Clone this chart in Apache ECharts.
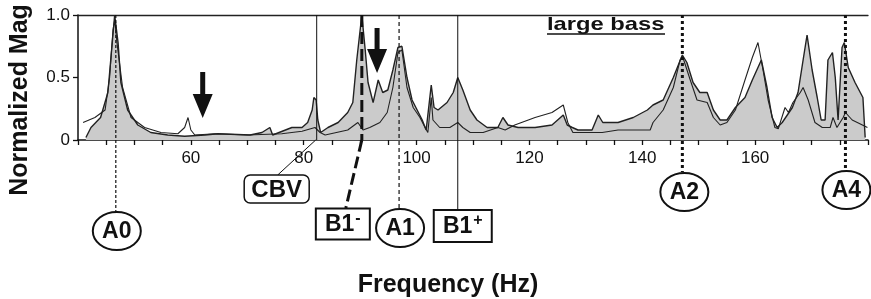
<!DOCTYPE html>
<html>
<head>
<meta charset="utf-8">
<title>large bass</title>
<script src="https://cdn.jsdelivr.net/npm/echarts@6/dist/echarts.min.js"></script>
<style>
  html, body { margin: 0; padding: 0; background: #fff; }
  #main { width: 871px; height: 299px; }
</style>
</head>
<body>
<div id="main"></div>
<script>
// values (Hz / normalized magnitude)
var fillFreq = [41.4, 42.3, 44.0, 45.3, 45.8, 46.5, 47.1, 47.6, 48.8, 50.6, 52.9, 55.9, 58.9, 62.5, 64.8, 70.5, 72.6, 74.0, 74.5, 77.9,
    79.7, 80.7, 81.5, 81.8, 82.2, 82.5, 83.0, 84.3, 86.1, 87.8, 88.7, 89.4, 90.3, 90.9, 91.4, 92.3, 93.2, 94.0, 94.9, 95.8,
    96.7, 97.4, 98.3, 99.2, 100.1, 101.0, 101.7, 102.6, 103.1, 103.8, 105.4, 106.5, 107.3, 108.2, 109.5, 110.7, 112.5, 114.4, 115.3, 116.2,
    118.0, 121.0, 124.0, 126.0, 126.7, 127.6, 128.6, 131.1, 132.2, 133.0, 135.7, 138.4, 140.9, 141.9, 143.7, 145.5, 147.1, 147.9, 149.0, 150.2,
    151.5, 152.6, 153.8, 155.0, 156.5, 158.2, 159.5, 161.1, 162.1, 163.0, 163.9, 164.8, 166.6, 167.6, 168.5, 169.2, 170.1, 171.0, 171.7, 172.4,
    172.9, 173.7, 174.2, 174.7, 175.4, 175.8, 176.5, 177.7, 179.1, 179.5];
var fillMag = [0.02, 0.10, 0.18, 0.38, 0.64, 1.0, 0.78, 0.46, 0.24, 0.12, 0.06, 0.04, 0.03, 0.04, 0.05, 0.04, 0.06, 0.10, 0.04, 0.10,
    0.10, 0.14, 0.24, 0.34, 0.32, 0.16, 0.06, 0.10, 0.14, 0.22, 0.30, 0.64, 1.0, 0.72, 0.46, 0.30, 0.48, 0.38, 0.40, 0.56,
    0.74, 0.75, 0.50, 0.32, 0.24, 0.16, 0.08, 0.44, 0.26, 0.24, 0.30, 0.38, 0.50, 0.40, 0.24, 0.16, 0.10, 0.10, 0.18, 0.12,
    0.10, 0.10, 0.12, 0.20, 0.12, 0.10, 0.08, 0.08, 0.20, 0.14, 0.14, 0.18, 0.24, 0.28, 0.32, 0.50, 0.68, 0.62, 0.46, 0.38,
    0.38, 0.24, 0.16, 0.16, 0.26, 0.34, 0.48, 0.64, 0.42, 0.18, 0.10, 0.14, 0.26, 0.38, 0.64, 0.84, 0.56, 0.34, 0.16, 0.16,
    0.64, 0.70, 0.50, 0.16, 0.74, 0.78, 0.58, 0.46, 0.34, 0.02];

var lineFreq = [40.9, 43.0, 44.8, 45.6, 46.2, 46.5, 46.9, 47.9, 49.4, 51.8, 54.7, 57.7, 58.9, 59.5, 60.0, 60.7, 64.3, 70.1, 76.1, 79.7,
    82.0, 82.9, 83.8, 87.8, 89.6, 90.5, 91.7, 93.5, 94.8, 95.8, 96.7, 97.4, 98.3, 99.4, 100.6, 101.5, 102.0, 102.6, 102.9, 104.1,
    105.9, 107.3, 108.2, 109.5, 111.8, 114.4, 115.7, 117.4, 121.0, 124.0, 126.0, 126.8, 127.7, 129.9, 132.9, 135.7, 141.4, 141.9, 143.7, 145.5,
    146.7, 147.2, 148.5, 149.7, 151.5, 152.6, 153.8, 155.0, 156.5, 158.2, 159.5, 160.5, 161.4, 162.3, 163.5, 164.1, 165.3, 165.9, 166.7, 168.0,
    168.5, 169.4, 170.6, 171.9, 173.3, 173.8, 174.5, 175.6, 176.0, 177.2, 179.0, 179.9];
var lineMag = [0.14, 0.18, 0.24, 0.50, 0.88, 0.96, 0.78, 0.42, 0.18, 0.10, 0.06, 0.05, 0.10, 0.18, 0.08, 0.04, 0.05, 0.04, 0.05, 0.07,
    0.10, 0.06, 0.04, 0.08, 0.14, 0.08, 0.10, 0.14, 0.22, 0.42, 0.70, 0.72, 0.42, 0.26, 0.18, 0.10, 0.06, 0.34, 0.16, 0.10,
    0.10, 0.14, 0.10, 0.06, 0.06, 0.10, 0.08, 0.12, 0.18, 0.22, 0.28, 0.14, 0.06, 0.06, 0.06, 0.08, 0.08, 0.14, 0.24, 0.42,
    0.64, 0.66, 0.48, 0.32, 0.30, 0.18, 0.12, 0.14, 0.24, 0.48, 0.66, 0.78, 0.56, 0.32, 0.10, 0.09, 0.26, 0.22, 0.30, 0.38,
    0.42, 0.32, 0.14, 0.10, 0.10, 0.18, 0.10, 0.18, 0.22, 0.16, 0.12, 0.10];

var xTicks = [60, 80, 100, 120, 140, 160];
var yTicks = [0, 0.5, 1.0];

// mode markers: name and frequency
var modeNames = ['A0', 'CBV', 'B1-', 'A1', 'B1+', 'A2', 'A4'];
var modeFreqs = [46.7, 82.3, 90.3, 96.9, 107.3, 147.1, 176.0];
var arrowFreqs = [62.1, 93.0];

function zip(a, b) {
    var out = [];
    for (var i = 0; i < Math.min(a.length, b.length); i++) out.push([a[i], b[i]]);
    return out;
}

var FONT = '"Liberation Sans", Arial, sans-serif';

var myChart = echarts.init(document.getElementById('main'));
myChart.setOption({
    animation: false,
    backgroundColor: '#fff',
    grid: { left: 78, right: 3, top: 15, bottom: 159, outerBoundsMode: 'none' },
    xAxis: [{
        type: 'value', min: 40, max: 180, interval: 20,
        axisLine: { lineStyle: { color: '#111', width: 1.5 } },
        axisTick: { length: 5, lineStyle: { color: '#111', width: 1.3 } },
        minorTick: { show: true, splitNumber: 4, length: 5, lineStyle: { color: '#111', width: 1.3 } },
        splitLine: { show: false },
        axisLabel: {
            margin: 10, fontSize: 17, color: '#111', fontFamily: FONT,
            showMinLabel: false, showMaxLabel: false,
            formatter: function (v) { return xTicks.indexOf(v) >= 0 ? String(v) : ''; }
        }
    }, {
        type: 'value', position: 'top', min: 40, max: 180,
        axisLine: { show: true, lineStyle: { color: '#222', width: 1.3 } },
        axisTick: { show: false }, axisLabel: { show: false }, splitLine: { show: false }
    }],
    yAxis: {
        type: 'value', min: 0, max: 1, interval: 0.5,
        axisLine: { show: true, lineStyle: { color: '#111', width: 1.5 } },
        axisTick: { show: true, length: 5, lineStyle: { color: '#111', width: 1.3 } },
        splitLine: { show: false },
        axisLabel: {
            margin: 8, fontSize: 17, color: '#111', fontFamily: FONT,
            formatter: function (v) {
                if (yTicks.indexOf(v) < 0) return '';
                return v === 0 ? '0' : v.toFixed(1);
            }
        }
    },
    series: [{
        type: 'line', data: zip(fillFreq, fillMag), showSymbol: false, z: 2,
        lineStyle: { color: '#222', width: 1.4 },
        areaStyle: { color: '#cbcbcb', opacity: 1 }
    }, {
        type: 'line', data: zip(lineFreq, lineMag), showSymbol: false, z: 3,
        lineStyle: { color: '#222', width: 1.1 }
    }]
});

// annotations placed from the axis scale
function px(f, v) { return myChart.convertToPixel({ xAxisIndex: 0, yAxisIndex: 0 }, [f, v]); }
var yTop = px(40, 1)[1], yBase = px(40, 0)[1];
var g = [];

function line(x1, y1, x2, y2, w, dash) {
    g.push({ type: 'line', z: 50, shape: { x1: x1, y1: y1, x2: x2, y2: y2 },
        style: { stroke: '#111', lineWidth: w, lineDash: dash || null } });
}
function label(x, y, txt, size) {
    g.push({ type: 'text', z: 60, x: x, y: y,
        style: { text: txt, fill: '#111', font: 'bold ' + size + 'px ' + FONT,
            align: 'center', verticalAlign: 'middle', textAlign: 'center', textVerticalAlign: 'middle' } });
}
function oval(cx, cy, txt) {
    g.push({ type: 'ellipse', z: 55, shape: { cx: cx, cy: cy, rx: 24, ry: 19 },
        style: { fill: '#fff', stroke: '#111', lineWidth: 2 } });
    label(cx, cy + 1, txt, 23);
}
function box(cx, cy, w, h, r, txt, sup) {
    g.push({ type: 'rect', z: 55, shape: { x: cx - w / 2, y: cy - h / 2, width: w, height: h, r: r },
        style: { fill: '#fff', stroke: '#111', lineWidth: r ? 1.5 : 2 } });
    if (sup) {
        g.push({ type: 'text', z: 60, x: cx, y: cy + 1,
            style: { text: '{b|' + txt + '}{s|' + sup + '}', fill: '#111',
                align: 'center', verticalAlign: 'middle', textAlign: 'center', textVerticalAlign: 'middle',
                rich: {
                    b: { font: 'bold 23px ' + FONT, fill: '#111' },
                    s: { font: 'bold 16px ' + FONT, fill: '#111', verticalAlign: 'top', padding: [0, 0, 12, 1] }
                } } });
    } else {
        label(cx, cy + 1, txt, 24);
    }
}

var mx = modeFreqs.map(function (f) { return px(f, 0)[0]; });

// A0
line(mx[0], yTop, mx[0], 212, 1.2, [3, 2]);
oval(mx[0] + 1, 231, modeNames[0]);
// CBV
line(mx[1], yTop, mx[1], yBase, 1);
line(mx[1] - 1, yBase, mx[1] - 39, 175, 1);
box(mx[1] - 40, 189, 65, 28, 6, modeNames[1]);
// B1-
line(mx[2], yTop, mx[2], yBase, 3, [12, 5]);
line(mx[2], yBase, mx[2] - 16, 208, 3, [12, 5]);
box(mx[2] - 19, 224, 54, 31, 0, 'B1', '-');
// A1
line(mx[3], yTop, mx[3], 208, 1.2, [4, 3]);
oval(mx[3] + 1, 228, modeNames[3]);
// B1+
line(mx[4], yTop, mx[4], 210, 1);
box(mx[4] + 5, 226, 58, 32, 0, 'B1', '+');
// A2, A4
line(mx[5], yTop, mx[5], 172, 3, [3, 3]);
oval(mx[5] + 2, 192, modeNames[5]);
line(mx[6], yTop, mx[6], 170, 3, [3, 3]);
oval(mx[6] + 1, 190, modeNames[6]);

// arrows
var arrowY = [[72, 94, 118], [28, 49, 73]];
arrowFreqs.forEach(function (f, i) {
    var x = px(f, 0)[0], a = arrowY[i];
    g.push({ type: 'polygon', z: 58, shape: { points: [
        [x - 2.5, a[0]], [x + 2.5, a[0]], [x + 2.5, a[1]], [x + 10, a[1]],
        [x, a[2]], [x - 10, a[1]], [x - 2.5, a[1]]] },
        style: { fill: '#111' } });
});

// titles
g.push({ type: 'text', z: 60, x: 547, y: 25, scaleX: 1.25,
    style: { text: 'large bass', fill: '#111', font: 'bold 19px ' + FONT,
        align: 'left', verticalAlign: 'middle', textAlign: 'left', textVerticalAlign: 'middle' } });
line(547, 34, 665, 34, 1.5);
g.push({ type: 'text', z: 60, x: 448, y: 285,
    style: { text: 'Frequency (Hz)', fill: '#111', font: 'bold 25px ' + FONT,
        align: 'center', verticalAlign: 'middle', textAlign: 'center', textVerticalAlign: 'middle' } });
g.push({ type: 'text', z: 60, x: 20, y: 100, rotation: Math.PI / 2,
    style: { text: 'Normalized Mag', fill: '#111', font: 'bold 25px ' + FONT,
        align: 'center', verticalAlign: 'middle', textAlign: 'center', textVerticalAlign: 'middle' } });

myChart.setOption({ graphic: { elements: g } });
</script>
</body>
</html>
